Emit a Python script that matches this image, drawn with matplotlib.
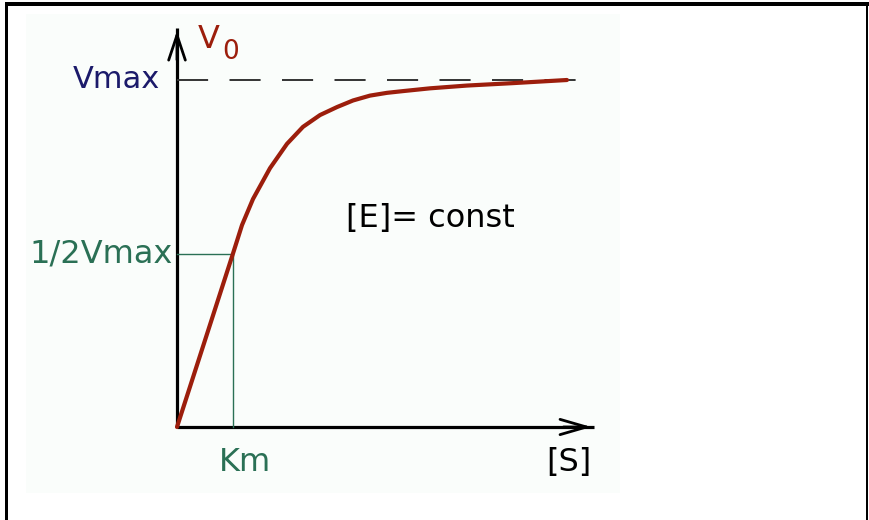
import matplotlib.pyplot as plt
from matplotlib.patches import Rectangle

# substrate concentration [S] in units of Km, initial velocity V0 as fraction of Vmax
s_values = [0.0, 0.5, 1.0, 1.161, 1.357, 1.661, 1.964, 2.25, 2.554, 2.857,
            3.143, 3.446, 3.75, 4.036, 4.518, 5.179, 6.0, 6.964]
v_values = [0.0, 0.25, 0.5, 0.582, 0.657, 0.746, 0.816, 0.865, 0.899, 0.922,
            0.941, 0.955, 0.963, 0.968, 0.976, 0.984, 0.991, 1.0]
km = 1.0
vmax = 1.0
s_end = 7.45
v_end = 1.15

red = '#9c1e0c'
green = '#2a7055'
navy = '#1b1a6a'

fig = plt.figure(figsize=(8.69, 5.2), dpi=100)
fig.patch.set_facecolor('white')

# light panel behind the drawing
fig.patches.append(Rectangle((26 / 869, 27 / 520), 594 / 869, 479 / 520,
                             transform=fig.transFigure, facecolor='#fafdfb',
                             edgecolor='none', zorder=-1))

ax = fig.add_axes([0, 0, 1, 1])
ax.set_facecolor('none')
ax.set_xlim(-177 / 56, (869 - 177) / 56)
ax.set_ylim(-(520 - 427) / 347, 427 / 347)
ax.axis('off')

# axes with open arrowheads
ax.plot([0, 0], [0, v_end], color='black', lw=2.3, solid_capstyle='butt')
ax.plot([0, s_end], [0, 0], color='black', lw=2.3, solid_capstyle='butt')
ax.annotate('', xy=(0, v_end), xytext=(0, v_end - 0.1),
            arrowprops=dict(arrowstyle='->,head_length=1.8,head_width=0.6',
                            lw=2.0, color='black'))
ax.annotate('', xy=(s_end, 0), xytext=(s_end - 0.6, 0),
            arrowprops=dict(arrowstyle='->,head_length=1.9,head_width=0.55',
                            lw=2.0, color='black'))

# Vmax asymptote
ax.plot([0, s_end - 0.05], [vmax, vmax], color='#333333', lw=1.4,
        dashes=(16, 11))

# Km guide lines
ax.plot([0, km, km], [vmax / 2, vmax / 2, 0], color=green, lw=1.0)

# saturation curve
ax.plot(s_values, v_values, color=red, lw=3.0, solid_capstyle='round',
        solid_joinstyle='round')

font = 'DejaVu Sans'
ax.text(-0.30, vmax, 'Vmax', color=navy, fontsize=22, family=font,
        ha='right', va='center')
ax.text(-0.07, vmax / 2, '1/2Vmax', color=green, fontsize=23, family=font,
        ha='right', va='center')
ax.text(0.375, 1.118, 'V', color=red, fontsize=23, family=font,
        ha='left', va='center')
ax.text(0.80, 1.081, '0', color=red, fontsize=19, family=font,
        ha='left', va='center')
ax.text(1.21, -0.101, 'Km', color=green, fontsize=23, family=font,
        ha='center', va='center')
ax.text(7.0, -0.103, '[S]', color='black', fontsize=23, family=font,
        ha='center', va='center')
ax.text(4.52, 0.602, '[E]= const', color='black', fontsize=23, family=font,
        ha='center', va='center')

# outer frame: left, top and right edges
fig.patches.append(Rectangle((5 / 869, 0), 3 / 869, 518 / 520,
                             transform=fig.transFigure, facecolor='black', zorder=5))
fig.patches.append(Rectangle((5 / 869, 514 / 520), 864 / 869, 4 / 520,
                             transform=fig.transFigure, facecolor='black', zorder=5))
fig.patches.append(Rectangle((866 / 869, 0), 2 / 869, 518 / 520,
                             transform=fig.transFigure, facecolor='black', zorder=5))

fig.savefig('out.png', dpi=100)
plt.close(fig)
